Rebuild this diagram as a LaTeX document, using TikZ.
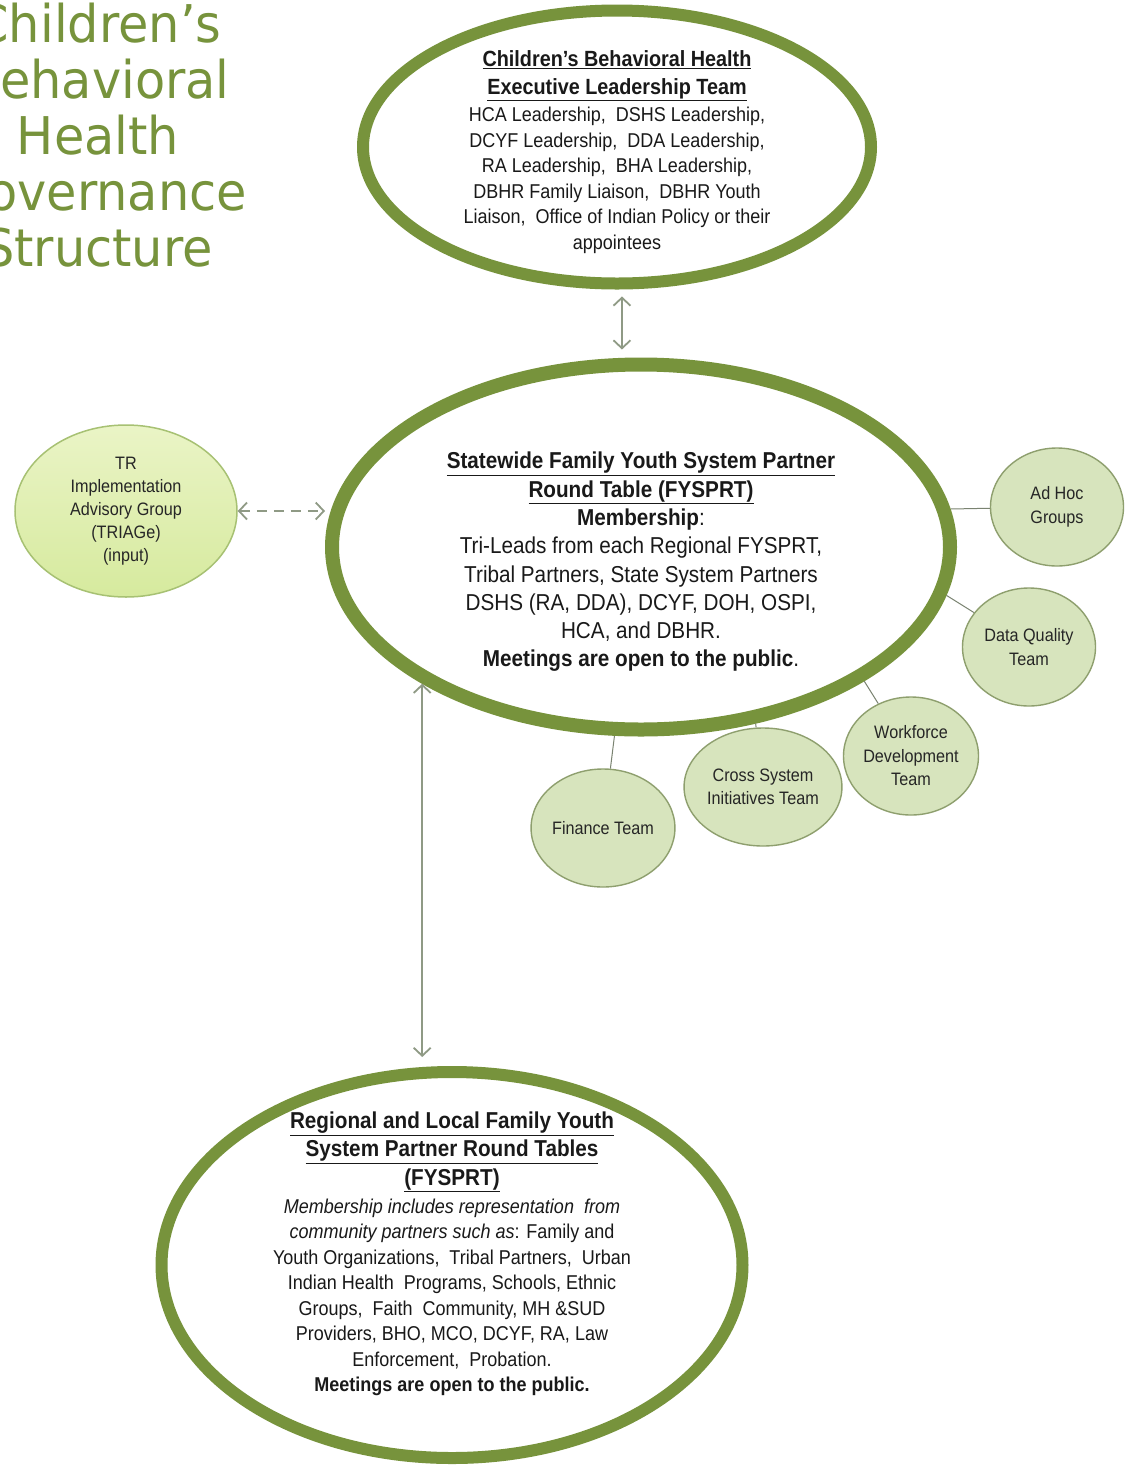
\documentclass[tikz,border=0pt]{standalone}
\usepackage{fontspec}
\setmainfont{Liberation Sans}[FakeStretch=0.9]
\newfontfamily\titlefont{DejaVu Sans}[FakeStretch=0.95]
\usetikzlibrary{shapes,arrows.meta,calc,positioning}
\definecolor{ringgreen}{HTML}{77933C}
\definecolor{teamfill}{HTML}{D7E4BD}
\definecolor{teamedge}{HTML}{8E9F6E}
\definecolor{triagetop}{HTML}{EAF4C6}
\definecolor{triagebot}{HTML}{D6EA9E}
\definecolor{triageedge}{HTML}{A7C173}
\definecolor{conngray}{HTML}{8F9A85}
\tikzset{
    ring/.style ={ellipse, draw=ringgreen, fill=white, inner sep=0pt},
    team/.style ={ellipse, draw=teamedge, line width=1.4pt, fill=teamfill,
        minimum width=133pt, minimum height=118pt, inner sep=0pt,
        align=center, text=black!85, font=\fontsize{18}{23.5}\selectfont},
    txt/.style ={align=center, text=black!90, inner sep=0pt},
    conn/.style ={draw=conngray, line width=1.8pt},
    biarrow/.style={conn, {Straight Barb[length=8pt,width=17pt]}-{Straight Barb[length=8pt,width=17pt]}},
    twig/.style ={draw=conngray!85!black, line width=1pt},
}

\begin{document}
\begin{tikzpicture}[x=1pt,y=-1pt]
\useasboundingbox[fill=white] (0,0) rectangle (1129,1468);

    % heading
    \node[align=center, text=ringgreen, inner sep=0pt,
        font=\titlefont\fontsize{52}{56}\selectfont] (ttl) at (98,135)
        {Children’s\\Behavioral\\Health\\Governance\\Structure};

    % the three round tables
    \node[ring, line width=12pt, minimum width=508pt, minimum height=273pt] (elt) at (617,147) {};
    \node[ring, line width=14pt, minimum width=618pt, minimum height=365pt] (fys) at (641,547) {};
    \node[ring, line width=12pt, minimum width=581pt, minimum height=386pt] (reg) at (452,1265) {};

    \node[txt, font=\fontsize{20}{25.5}\selectfont] (elt-txt) at (617,152) {%
        {\fontsize{22}{28}\selectfont\bfseries\underline{Children’s Behavioral Health}}\\[2.5pt]
        {\fontsize{22}{28}\selectfont\bfseries\underline{Executive Leadership Team}}\\[2pt]
        HCA Leadership,\ \ DSHS Leadership,\\
        DCYF Leadership,\ \ DDA Leadership,\\
        RA Leadership,\ \ BHA Leadership,\\
        DBHR Family Liaison,\ \ DBHR Youth\\
        Liaison,\ \ Office of Indian Policy or their\\
        appointees};

    \node[txt, font=\fontsize{23}{28.3}\selectfont] (fys-txt) at (641,562) {%
        \textbf{\underline{Statewide Family Youth System Partner}}\\
        \textbf{\underline{Round Table (FYSPRT)}}\\
        \textbf{Membership}:\\
        Tri-Leads from\ each Regional FYSPRT,\\
        Tribal Partners,\ State\ System\ Partners\\
        DSHS (RA, DDA), DCYF, DOH,\ OSPI,\\
        HCA,\ and DBHR.\\
        \textbf{Meetings are open to the public}.};

    \node[txt, font=\fontsize{20}{25.5}\selectfont] (reg-txt) at (452,1254) {%
        {\fontsize{23}{28}\selectfont\bfseries\underline{Regional and Local Family Youth}}\\[3pt]
        {\fontsize{23}{28}\selectfont\bfseries\underline{System Partner Round Tables}}\\[3pt]
        {\fontsize{23}{28}\selectfont\bfseries\underline{(FYSPRT)}}\\[2.5pt]
        \textit{Membership\ includes\ representation\ \ from}\\
        \textit{community\ partners\ such as}: Family and\\
        Youth Organizations,\ \ Tribal Partners,\ \ Urban\\
        Indian Health\ \ Programs, Schools, Ethnic\\
        Groups,\ \ Faith\ \ Community, MH \&SUD\\
        Providers, BHO, MCO, DCYF, RA, Law\\
        Enforcement,\ \ Probation.\\
        \textbf{Meetings are open to the public.}};

    % advisory group
    \node[ellipse, draw=triageedge, line width=1.5pt, top color=triagetop, bottom color=triagebot,
        minimum width=222pt, minimum height=172pt, inner sep=0pt,
        align=center, text=black!85, font=\fontsize{18}{23}\selectfont] (tri) at (126,511)
        {TR\\Implementation\\Advisory Group\\(TRIAGe)\\(input)};

    % work teams
    \node[team] (adhoc) at (1057,507) {Ad Hoc\\Groups};
    \node[team] (dq) at (1029,647) {Data Quality\\Team};
    \node[team] (wf) at (911,756) {Workforce\\Development\\Team};
    \node[team] (cs) at (763,787) {Cross System\\Initiatives Team};
    \node[team] (fin) at (603,828) {Finance Team};

    % two-way links
    \draw[biarrow, shorten <=7pt, shorten >=8pt] (elt.-88) -- (elt.-88 |- fys.north);
    \draw[biarrow, dash pattern=on 10pt off 7pt] (tri.east) -- (tri.east -| fys.west);
    \draw[biarrow, shorten >=9pt] (fys.-148.3) -- (fys.-148.3 |- reg.north);

    % teams hang off the statewide table
    \draw[twig] (fys.7) -- (adhoc);
    \draw[twig] (fys.-9) -- (dq);
    \draw[twig] (fys.-31) -- (wf);
    \draw[twig] (fys.-57) -- (cs);
    \draw[twig] (fys.-98) -- (fin);

\end{tikzpicture}
\end{document}
